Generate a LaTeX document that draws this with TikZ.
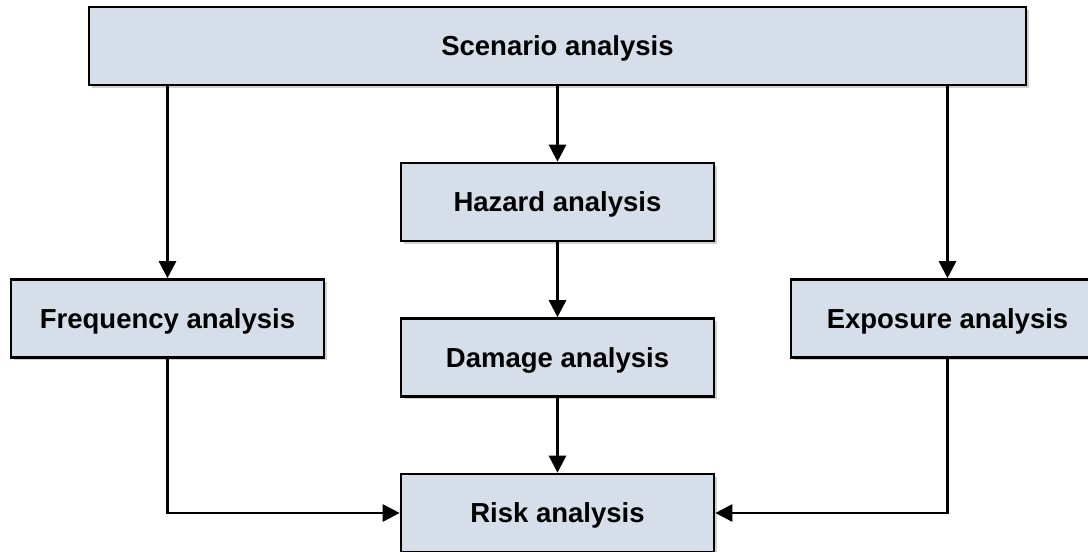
\documentclass[tikz,border=0pt]{standalone}
\usepackage{fontspec}
\setmainfont{Liberation Sans}
\usetikzlibrary{arrows.meta,shadows}
\definecolor{boxfill}{HTML}{D5DEE9}
\tikzset{
  stage/.style={draw=black, line width=2.6pt, fill=boxfill,
    minimum height=78pt, inner sep=0pt, text height=19.5pt, text depth=0pt,
    font=\fontsize{27.5}{32}\selectfont\bfseries,
    drop shadow={shadow xshift=2.5pt, shadow yshift=-2.5pt, fill=black, opacity=0.18}},
  flow/.style={line width=2.6pt, -{Triangle[width=17pt,length=17pt]}}
}
\begin{document}
\begin{tikzpicture}[x=1pt,y=-1pt]
  \useasboundingbox (0,0) rectangle (1088,552);
  \clip (0,0) rectangle (1088,552);
  % analysis stages
  \node[stage, minimum width=937pt] (scen) at (557.5,46) {Scenario analysis};
  \node[stage, minimum width=313pt] (haz)  at (557.5,202) {Hazard analysis};
  \node[stage, minimum width=313pt] (dam)  at (557.5,357.5) {Damage analysis};
  \node[stage, minimum width=313pt] (freq) at (167.5,318.5) {Frequency analysis};
  \node[stage, minimum width=313pt] (expo) at (947.5,318.5) {Exposure analysis};
  \node[stage, minimum width=313pt] (risk) at (557.5,513) {Risk analysis};
  % connectors
  \draw[flow] (scen.south -| freq.north) -- (freq.north);
  \draw[flow] (scen.south) -- (haz.north);
  \draw[flow] (scen.south -| expo.north) -- (expo.north);
  \draw[flow] (haz.south) -- (dam.north);
  \draw[flow] (dam.south) -- (risk.north);
  \draw[flow] (freq.south) |- (risk.west);
  \draw[flow] (expo.south) |- (risk.east);
\end{tikzpicture}
\end{document}
